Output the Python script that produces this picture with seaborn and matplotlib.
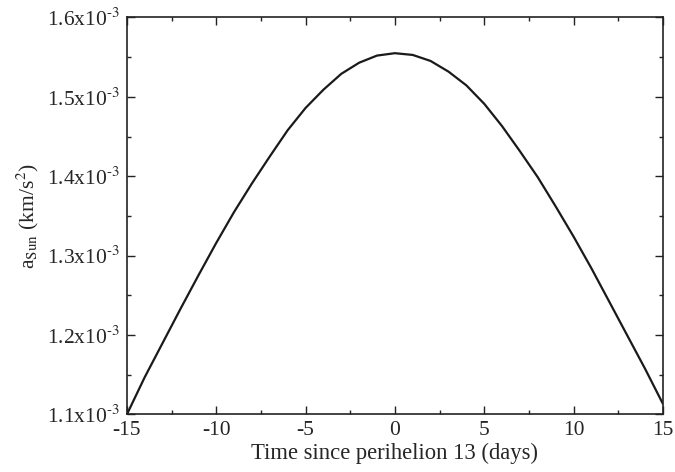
import numpy as np
import pandas as pd
import matplotlib
matplotlib.use("Agg")
import matplotlib.pyplot as plt
from matplotlib.ticker import MultipleLocator, FuncFormatter
import seaborn as sns

# days from perihelion and solar acceleration (units of 1e-3 km/s^2)
days = list(range(-15, 16))
a_sun = [1.100, 1.147, 1.190, 1.233, 1.275, 1.316, 1.355, 1.391, 1.425, 1.458,
         1.486, 1.509, 1.529, 1.543, 1.552, 1.555,
         1.5528, 1.5452, 1.5318, 1.5145, 1.4913, 1.4631, 1.4315, 1.3987, 1.362,
         1.3241, 1.2841, 1.242, 1.1998, 1.1577, 1.1135]

df = pd.DataFrame({"t": days, "a": np.array(a_sun) * 1e-3})

sns.set_style("ticks")
plt.rcParams['font.family'] = ['Liberation Serif', 'DejaVu Serif']
plt.rcParams['mathtext.fontset'] = 'stix'
plt.rcParams['axes.unicode_minus'] = False

fig = plt.figure(figsize=(6.75, 4.72), dpi=100)
ax = fig.add_axes([0.188, 0.122, 0.794, 0.841])

sns.lineplot(data=df, x="t", y="a", ax=ax, color="#1a1a1a", linewidth=1.6)

ax.set_xlim(-15, 15)
ax.set_ylim(1.1e-3, 1.6e-3)
ax.xaxis.set_major_locator(MultipleLocator(5))
ax.xaxis.set_minor_locator(MultipleLocator(2.5))
ax.yaxis.set_major_locator(MultipleLocator(0.1e-3))
ax.yaxis.set_minor_locator(MultipleLocator(0.05e-3))
ax.yaxis.set_major_formatter(FuncFormatter(lambda v, p: f"{v*1e3:.1f}x10$^{{\\text{{-3}}}}$"))
ax.xaxis.set_major_formatter(FuncFormatter(lambda v, p: f"{v:.0f}"))

ax.tick_params(which='both', direction='in', top=True, right=True,
               labelsize=15.5, color="#222222", width=1.0)
ax.tick_params(which='major', length=5.8, pad=5)
ax.tick_params(which='minor', length=3.2)
for s in ax.spines.values():
    s.set_linewidth(1.2)
    s.set_color("#222222")

ax.set_xlabel("Time since perihelion 13 (days)", fontsize=16.3, labelpad=2)
ax.set_ylabel("a$_{\\rm Sun}$ (km/s$^2$)", fontsize=15.5, labelpad=4)

fig.savefig("out.png", dpi=100)
